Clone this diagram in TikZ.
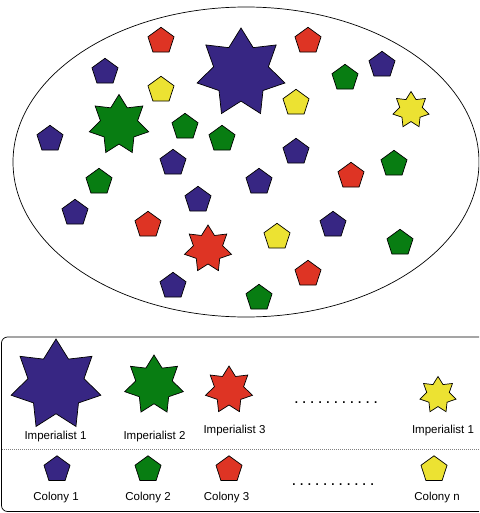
\documentclass[tikz,border=0pt]{standalone}
\usepackage{fontspec}
\setmainfont{Liberation Sans}
\usetikzlibrary{shapes.geometric}
\definecolor{cpurple}{RGB}{55,38,131}
\definecolor{cgreen}{RGB}{8,125,18}
\definecolor{cred}{RGB}{222,52,36}
\definecolor{cyellow}{RGB}{236,226,50}
\tikzset{
  pent/.style={regular polygon, regular polygon sides=5, minimum size=27.4pt, inner sep=0pt, draw=black, line width=0.7pt, fill=#1},
  emp/.style={star, star points=7, star point ratio=1.6, inner sep=0pt, draw=black, line width=0.7pt, fill=#1},
  lbl/.style={font=\fontsize{11.5}{13}\selectfont, inner sep=0pt},
  dotrow/.style={font=\fontsize{17}{17}\selectfont, inner sep=0pt}
}
\begin{document}
\begin{tikzpicture}[x=1pt,y=-1pt]
\useasboundingbox (0,0) rectangle (479,513);
\clip (0,0) rectangle (479,513);
\fill[white] (0,0) rectangle (479,513);
% world ellipse
\node[ellipse, draw=black, line width=0.7pt, minimum width=466pt, minimum height=310pt, inner sep=0pt] (world) at (246,162) {};
% imperialists in the world
\node[emp=cpurple, minimum size=90pt] (ip1) at (241,73) {};
\node[emp=cgreen, minimum size=61pt] (ig1) at (119,125) {};
\node[emp=cyellow, minimum size=37pt] (iy1) at (411,110) {};
\node[emp=cred, minimum size=48pt] (ir1) at (208,249) {};
% colonies: purple
\foreach \x/\y [count=\i] in {105/72,382/65,50/139,296/152,173/163,259/182,198/200,75/213,333/225,173/286}
  \node[pent=cpurple] (cp\i) at (\x,\y) {};
% colonies: red
\foreach \x/\y [count=\i] in {161/41,308/41,351/176,148/225,308/274}
  \node[pent=cred] (cr\i) at (\x,\y) {};
% colonies: green
\foreach \x/\y [count=\i] in {345/78,185/127,222/139,394/164,99/182,400/243,259/298}
  \node[pent=cgreen] (cg\i) at (\x,\y) {};
% colonies: yellow
\foreach \x/\y [count=\i] in {161/90,296/103,277/237}
  \node[pent=cyellow] (cy\i) at (\x,\y) {};
% legend box
\draw[line width=0.7pt, rounded corners=6pt] (1.5,337) rectangle (495,511.5);
\coordinate (sepL) at (2,449);
\coordinate (sepR) at (479,449);
\draw[gray, line width=0.7pt, dash pattern=on 1pt off 1pt] (sepL) -- (sepR);
% legend imperialists
\node[emp=cpurple, minimum size=92pt] (L1) at (56,385) {};
\node[emp=cgreen, minimum size=60pt] (L2) at (154,385) {};
\node[emp=cred, minimum size=48pt] (L3) at (229,390) {};
\node[emp=cyellow, minimum size=37pt] (L4) at (438,395) {};
\node[lbl] (t1) at (55.5,437) {Imperialist 1};
\node[lbl] (t2) at (154.5,437) {Imperialist 2};
\node[lbl] (t3) at (234.5,431) {Imperialist 3};
\node[lbl] (t4) at (443,431) {Imperialist 1};
\node[dotrow] (d1) at (336,402.5) {\makebox[84pt]{.\hfill.\hfill.\hfill.\hfill.\hfill.\hfill.\hfill.\hfill.\hfill.\hfill.}};
% legend colonies
\node[pent=cpurple] (C1) at (57,469.5) {};
\node[pent=cgreen] (C2) at (148,469.5) {};
\node[pent=cred] (C3) at (229,469.5) {};
\node[pent=cyellow] (C4) at (434,469.5) {};
\node[lbl] (u1) at (56,498) {Colony 1};
\node[lbl] (u2) at (148,498) {Colony 2};
\node[lbl] (u3) at (226.5,498) {Colony 3};
\node[lbl] (u4) at (437,498) {Colony n};
\node[dotrow] (d2) at (333,485) {\makebox[83pt]{.\hfill.\hfill.\hfill.\hfill.\hfill.\hfill.\hfill.\hfill.\hfill.\hfill.}};
\end{tikzpicture}
\end{document}
